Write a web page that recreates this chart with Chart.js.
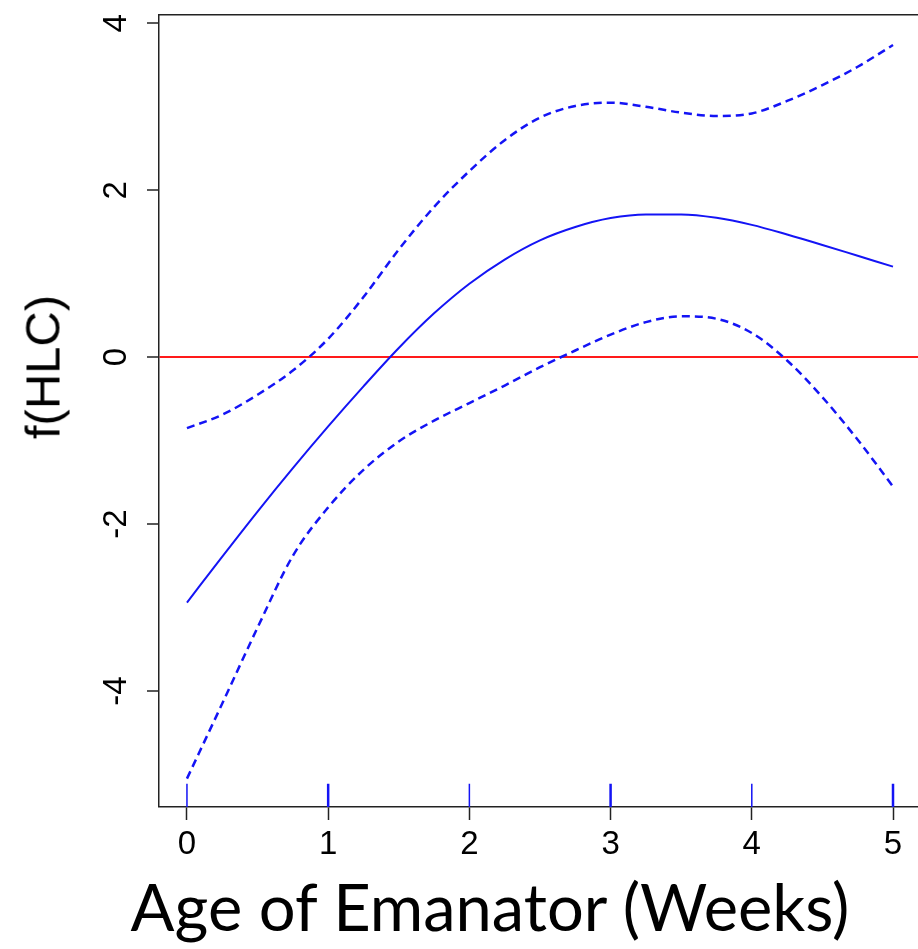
<!DOCTYPE html>
<html>
<head>
<meta charset="utf-8">
<script src="https://cdn.jsdelivr.net/npm/chart.js@4/dist/chart.umd.min.js"></script>
<style>
html,body{margin:0;padding:0;background:#fff;overflow:hidden}
#wrap{position:relative;width:918px;height:949px}
#c{position:absolute;left:0;top:0}
.ttl{position:absolute;white-space:nowrap;color:#000;line-height:1}
#xt{font-family:Lato,"Open Sans",sans-serif;font-size:65px;left:490px;top:906px;transform:translate(-50%,-50%)}
#yt{font-family:"Liberation Sans",Arial,sans-serif;font-size:49px;left:43px;top:367px;transform:translate(-50%,-50%) rotate(-90deg)}
</style>
</head>
<body>
<div id="wrap">
<canvas id="c" width="918" height="949"></canvas>
<div class="ttl" id="xt">Age of Emanator (Weeks)</div>
<div class="ttl" id="yt">f(HLC)</div>
</div>
<script>
// ---- data ----
const ages = [0,0.25,0.5,0.75,1,1.25,1.5,1.75,2,2.25,2.5,2.75,3,3.25,3.5,3.75,4,4.25,4.5,4.75,5];
const fitted = [-2.94,-2.39,-1.85,-1.33,-0.83,-0.35,0.11,0.525,0.88,1.17,1.40,1.56,1.667,1.71,1.71,1.67,1.585,1.47,1.345,1.215,1.085];
const upperCI = [-0.85,-0.69,-0.45,-0.16,0.22,0.72,1.29,1.80,2.23,2.60,2.87,3.01,3.05,3.00,2.93,2.89,2.92,3.07,3.26,3.48,3.74];
const lowerCI = [-5.05,-4.15,-3.24,-2.38,-1.80,-1.35,-1.01,-0.76,-0.55,-0.34,-0.12,0.08,0.27,0.42,0.49,0.46,0.29,-0.04,-0.48,-0.99,-1.55];
const rugThin = [0,2,4];
const rugThick = [1,3,5];
const xTicks = [0,1,2,3,4,5];
const yTicks = [-4,-2,0,2,4];
const xRange = [-0.198,5.177];
const yRange = [-5.39,4.10];
const rugTop = -5.11;

const pts = (xs, ys) => xs.map((x,i)=>({x:x,y:ys[i]}));
const rugPts = xs => { const out=[]; xs.forEach(x=>{out.push({x:x,y:yRange[0]});out.push({x:x,y:rugTop});out.push({x:x,y:null});}); return out; };
const noPad = s => { s.paddingTop=0; s.paddingBottom=0; s.paddingLeft=0; s.paddingRight=0; };

const BLUE = '#1414f5';
const TICKFONT = {family:'"Liberation Sans", Arial, sans-serif',size:33};
new Chart(document.getElementById('c'), {
  type:'line',
  data:{datasets:[
    {data:pts(ages,fitted),borderColor:BLUE,borderWidth:2,pointRadius:0,cubicInterpolationMode:'monotone'},
    {data:pts(ages,upperCI),borderColor:BLUE,borderWidth:2.5,borderDash:[8,5],pointRadius:0,cubicInterpolationMode:'monotone'},
    {data:pts(ages,lowerCI),borderColor:BLUE,borderWidth:2.5,borderDash:[8,5],pointRadius:0,cubicInterpolationMode:'monotone'},
    {data:rugPts(rugThin),borderColor:BLUE,borderWidth:1.5,pointRadius:0,spanGaps:false,tension:0},
    {data:rugPts(rugThick),borderColor:BLUE,borderWidth:2.5,pointRadius:0,spanGaps:false,tension:0}
  ]},
  options:{
    responsive:false,animation:false,
    layout:{padding:{left:0,right:0,top:0,bottom:0}},
    plugins:{legend:{display:false},tooltip:{enabled:false}},
    scales:{
      x:{type:'linear',position:'bottom',min:xRange[0],max:xRange[1],
        afterFit:s=>{s.height=142;noPad(s);},
        afterBuildTicks:s=>{s.ticks=xTicks.map(v=>({value:v}));},
        ticks:{font:TICKFONT,color:'#000',padding:5,maxRotation:0,minRotation:0},
        grid:{drawOnChartArea:false,drawTicks:true,tickLength:13,tickColor:'#222',tickWidth:1.5},
        border:{display:true,color:'#222',width:1.5}
      },
      x2:{type:'linear',position:'top',min:xRange[0],max:xRange[1],
        afterFit:s=>{s.height=15;noPad(s);},
        ticks:{display:false},
        grid:{drawOnChartArea:false,drawTicks:false},
        border:{display:true,color:'#222',width:1.5}
      },
      y:{type:'linear',position:'left',min:yRange[0],max:yRange[1],
        afterFit:s=>{s.width=159;noPad(s);},
        afterBuildTicks:s=>{s.ticks=yTicks.map(v=>({value:v}));},
        ticks:{font:TICKFONT,color:'#000',padding:15,minRotation:90,maxRotation:90,crossAlign:'center'},
        grid:{drawOnChartArea:true,drawTicks:true,tickLength:12,tickColor:'#222',tickWidth:1.5,
          color:c=>(c.tick && c.tick.value===0)?'#ff1a1a':'rgba(0,0,0,0)',lineWidth:c=>(c.tick && c.tick.value===0)?2:0},
        border:{display:true,color:'#222',width:1.5}
      }
    }
  }
});
</script>
</body>
</html>
